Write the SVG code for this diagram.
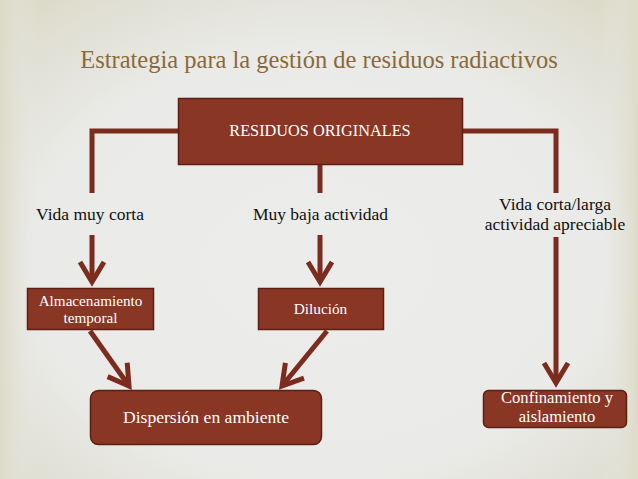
<svg xmlns="http://www.w3.org/2000/svg" width="638" height="479" viewBox="0 0 638 479">
<defs>
<radialGradient id="bg" cx="50%" cy="55%" r="75%">
<stop offset="0" stop-color="#ececeb"/>
<stop offset="0.6" stop-color="#eaeae8"/>
<stop offset="1" stop-color="#d9d8c4"/>
</radialGradient>
<linearGradient id="lr" x1="0" y1="0" x2="1" y2="0">
<stop offset="0" stop-color="#dcdbc8"/>
<stop offset="0.06" stop-color="#e9e9e6" stop-opacity="0"/>
<stop offset="0.94" stop-color="#e9e9e6" stop-opacity="0"/>
<stop offset="1" stop-color="#dcdbc8"/>
</linearGradient>
<marker id="chev" markerUnits="userSpaceOnUse" viewBox="-26 -16 30 32" refX="0" refY="0" markerWidth="30" markerHeight="32" orient="auto" overflow="visible">
<path d="M-20,-12 L0,0 L-20,12" fill="none" stroke="#7b2c1e" stroke-width="5" stroke-linejoin="miter"/>
</marker>
<style>
text{font-family:'Liberation Serif','Times New Roman',serif}
.box{fill:#8a3624;stroke:#5c1f13;stroke-width:1.5}
.wt{fill:#ffffff;text-anchor:middle}
.bt{fill:#111111;text-anchor:middle;font-size:17.5px}
.ln{fill:none;stroke:#7b2c1e;stroke-width:5}
.ar{fill:none;stroke:#7b2c1e;stroke-width:5;marker-end:url(#chev)}
</style>
</defs>
<rect width="638" height="479" fill="url(#bg)"/>
<rect width="638" height="479" fill="url(#lr)"/>
<text x="319" y="68" font-family="Liberation Serif, serif" font-size="24.5" fill="#8a6a3a" text-anchor="middle">Estrategia para la gestión de residuos radiactivos</text>
<g id="connectors">
<polyline class="ln" points="179,131 92,131 92,193"/>
<polyline class="ln" points="461,131 556,131 556,193"/>
<line class="ln" x1="320" y1="164" x2="320" y2="193"/>
<line class="ar" x1="92" y1="235" x2="92" y2="282"/>
<line class="ar" x1="320" y1="235" x2="320" y2="282"/>
<line class="ar" x1="556" y1="237" x2="556" y2="383"/>
<line class="ar" x1="90" y1="331" x2="129" y2="386"/>
<line class="ar" x1="327" y1="331" x2="282" y2="386"/>
</g>
<g id="n-residuos">
<rect class="box" x="178.5" y="98.5" width="284" height="66"/>
<text class="wt" x="320" y="136" font-size="16.3" font-family="Liberation Serif, serif">RESIDUOS ORIGINALES</text>
</g>
<g id="l-corta"><text class="bt" x="90" y="220" font-family="Liberation Serif, serif">Vida muy corta</text></g>
<g id="l-baja"><text class="bt" x="320.5" y="220" font-family="Liberation Serif, serif">Muy baja actividad</text></g>
<g id="l-apreciable">
<text class="bt" x="555" y="210" font-family="Liberation Serif, serif">Vida corta/larga</text>
<text class="bt" x="555" y="230" font-family="Liberation Serif, serif">actividad apreciable</text>
</g>
<g id="n-almacenamiento">
<rect class="box" x="27.5" y="288.5" width="126" height="41"/>
<text class="wt" x="90.5" y="305.5" font-size="15.2" font-family="Liberation Serif, serif">Almacenamiento</text>
<text class="wt" x="90.5" y="323" font-size="15.2" font-family="Liberation Serif, serif">temporal</text>
</g>
<g id="n-dilucion">
<rect class="box" x="258.5" y="288.5" width="125" height="41"/>
<text class="wt" x="320.5" y="314" font-size="15.3" font-family="Liberation Serif, serif">Dilución</text>
</g>
<g id="n-dispersion">
<rect class="box" x="90.5" y="390.5" width="231" height="54" rx="8"/>
<text class="wt" x="206" y="423" font-size="17.6" font-family="Liberation Serif, serif">Dispersión en ambiente</text>
</g>
<g id="n-confinamiento">
<rect class="box" x="483.5" y="390.5" width="143" height="37" rx="5"/>
<text class="wt" x="557" y="403" font-size="16.6" font-family="Liberation Serif, serif">Confinamiento y</text>
<text class="wt" x="557" y="421.5" font-size="16.6" font-family="Liberation Serif, serif">aislamiento</text>
</g>
</svg>
